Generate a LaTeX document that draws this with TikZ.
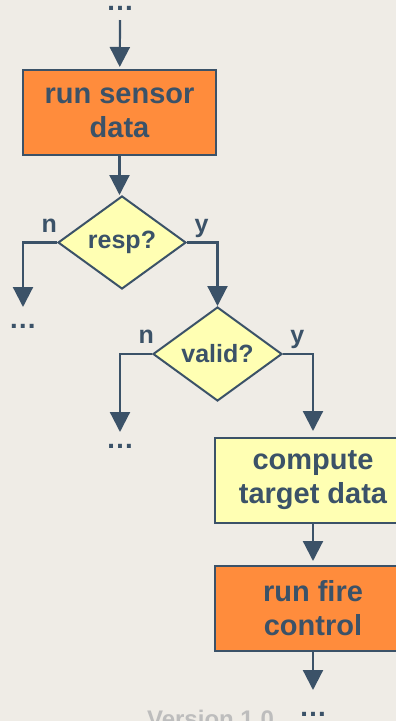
\documentclass[tikz,border=0pt]{standalone}
\usepackage{fontspec}
\setmainfont{Liberation Sans}
\usetikzlibrary{arrows.meta,positioning,shapes.geometric}

\definecolor{paper}{HTML}{EFECE6}
\definecolor{slate}{HTML}{3B5268}
\definecolor{boxorange}{HTML}{FF8C3C}
\definecolor{boxyellow}{HTML}{FFFFB3}
\definecolor{vergrey}{HTML}{BDBDBD}

\begin{document}
\begin{tikzpicture}[
		x=1pt, y=-1pt,
		block/.style={draw=slate, line width=2pt, minimum width=196pt, minimum height=85pt, align=center, text=slate, font=\bfseries\fontsize{29}{34}\selectfont},
		decision/.style={diamond, draw=slate, line width=2pt, fill=boxyellow, inner sep=0pt, minimum width=128pt, minimum height=93pt, text=slate, font=\bfseries\fontsize{25}{30}\selectfont},
		arr/.style={draw=slate, line width=2.2pt, -{Triangle[width=20pt, length=20pt]}},
		lbl/.style={text=slate, inner sep=3pt, text depth=0pt, font=\bfseries\fontsize{25}{30}\selectfont},
		cont/.style={anchor=base, inner sep=0pt, text=slate, font=\bfseries\fontsize{28}{30}\selectfont},
	]
		\useasboundingbox (0,0) rectangle (396,721);
		\fill[paper] (0,0) rectangle (396,721);
		\clip (0,0) rectangle (396,721);

		% boxes and decisions
		\node[block, fill=boxorange, minimum width=193pt] (sensor) at (119.5,112.5) {run sensor\\data};
		\node[decision] (resp) at (122,242.5) {resp?};
		\node[decision, minimum width=129pt, minimum height=94pt] (valid) at (217.5,354) {valid?};
		\node[block, fill=boxyellow] (compute) at (313,480.5) {compute\\target data};
		\node[block, fill=boxorange] (fire) at (313,608.5) {run fire\\control};

		% continuation marks
		\node[cont] (more-in) at (120,10) {…};
		\node[cont] (more-resp) at (23,328) {…};
		\node[cont] (more-valid) at (120,448) {…};
		\node[cont] (more-out) at (313,716) {…};
		\node[anchor=base, text=vergrey, font=\bfseries\fontsize{24}{28}\selectfont] (version) at (210.5,727) {Version 1.0};

		% free ends of the flow
		\coordinate (in) at (120,20);
		\coordinate (resp-no) at (23,307);
		\coordinate (valid-no) at (120,432);
		\coordinate (out) at (313,690);

		\draw[arr, shorten >=2pt] (in) -- (sensor);
		\draw[arr] (sensor.south) -- (sensor.south|-resp.north);
		\draw[arr] (resp.west) -| (resp-no) node[lbl, pos=0.115, above=6pt] {n};
		\draw[arr] (resp.east) -| (valid.north) node[lbl, pos=0.24, above=6pt] {y};
		\draw[arr] (valid.west) -| (valid-no) node[lbl, pos=0.09, above=6pt] {n};
		\draw[arr, shorten >=6pt] (valid.east) -| (compute.north) node[lbl, pos=0.24, above=6pt] {y};
		\draw[arr, shorten >=4pt] (compute) -- (fire);
		\draw[arr] (fire) -- (out);
	\end{tikzpicture}
\end{document}
